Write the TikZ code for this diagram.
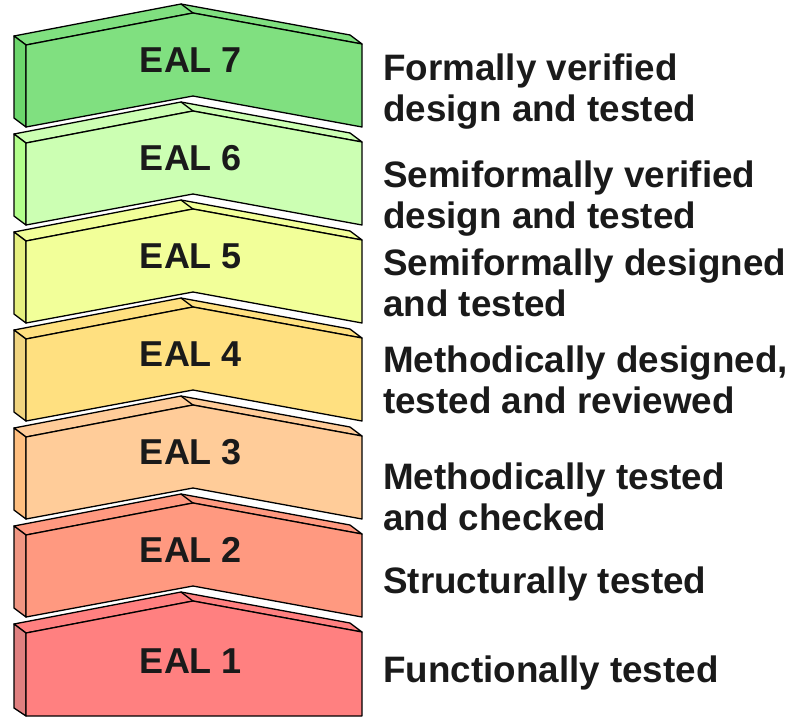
\documentclass[tikz,border=0pt]{standalone}
\usepackage{fontspec}
\setmainfont{Liberation Sans}
\definecolor{txt}{HTML}{1A1A1A}
\definecolor{fA}{HTML}{80E080}\definecolor{sA}{HTML}{6CD66C}
\definecolor{fB}{HTML}{CCFFB3}\definecolor{sB}{HTML}{B3FF8C}
\definecolor{fC}{HTML}{F2FF99}\definecolor{sC}{HTML}{E6F080}
\definecolor{fD}{HTML}{FFE080}\definecolor{sD}{HTML}{F0D480}
\definecolor{fE}{HTML}{FFCC99}\definecolor{sE}{HTML}{FFBF80}
\definecolor{fF}{HTML}{FF9980}\definecolor{sF}{HTML}{F09682}
\definecolor{fG}{HTML}{FF8080}\definecolor{sG}{HTML}{E08080}
\tikzset{
  face/.style={draw=black, line width=1.3pt, line join=round},
  eal/.style={font=\fontsize{36}{40}\selectfont\bfseries, text=txt, inner sep=0pt, anchor=base},
  desc/.style={font=\fontsize{36.8}{41}\selectfont\bfseries, text=txt, inner sep=0pt, anchor=north west, align=left}
}
\begin{document}
\begin{tikzpicture}[x=1pt,y=-1pt]
\useasboundingbox (0,0) rectangle (791,717);
% chevron blocks EAL 7 .. EAL 2
\foreach \i/\fc/\sc in {0/fA/sA,1/fB/sB,2/fC/sC,3/fD/sD,4/fE/sE,5/fF/sF}{
  \begin{scope}[shift={(0,98*\i)}]
    \filldraw[face, fill=\fc] (26,45) -- (193,13) -- (362,44) -- (350,35) -- (181,4) -- (14,36) -- cycle;
    \draw[face] (193,13) -- (181,4);
    \filldraw[face, fill=\sc] (26,45) -- (26,127) -- (14,118) -- (14,36) -- cycle;
    \filldraw[face, fill=\fc] (26,45) -- (193,13) -- (362,44) -- (362,127) -- (193,96) -- (26,127) -- cycle;
  \end{scope}
}
% EAL 1 block with flat bottom
\begin{scope}[shift={(0,588)}]
  \filldraw[face, fill=fG] (26,45) -- (193,13) -- (362,44) -- (350,35) -- (181,4) -- (14,36) -- cycle;
  \draw[face] (193,13) -- (181,4);
  \filldraw[face, fill=sG] (26,45) -- (26,128) -- (14,120) -- (14,36) -- cycle;
  \filldraw[face, fill=fG] (26,45) -- (193,13) -- (362,44) -- (362,128) -- (26,128) -- cycle;
\end{scope}
% labels on blocks
\node[eal] (e7) at (191,72) {EAL 7};
\node[eal] (e6) at (191,170) {EAL 6};
\node[eal] (e5) at (191,268) {EAL 5};
\node[eal] (e4) at (191,366) {EAL 4};
\node[eal] (e3) at (191,464) {EAL 3};
\node[eal] (e2) at (191,562) {EAL 2};
\node[eal] (e1) at (191,673) {EAL 1};
% descriptions
\node[desc] (d7) at (383,54) {Formally verified\\design and tested};
\node[desc] (d6) at (383,161) {Semiformally verified\\design and tested};
\node[desc] (d5) at (383,249) {Semiformally designed\\and tested};
\node[desc] (d4) at (383,346) {Methodically designed,\\tested and reviewed};
\node[desc] (d3) at (383,463) {Methodically tested\\and checked};
\node[desc] (d2) at (383,567) {Structurally tested};
\node[desc] (d1) at (383,656) {Functionally tested};
\end{tikzpicture}
\end{document}
